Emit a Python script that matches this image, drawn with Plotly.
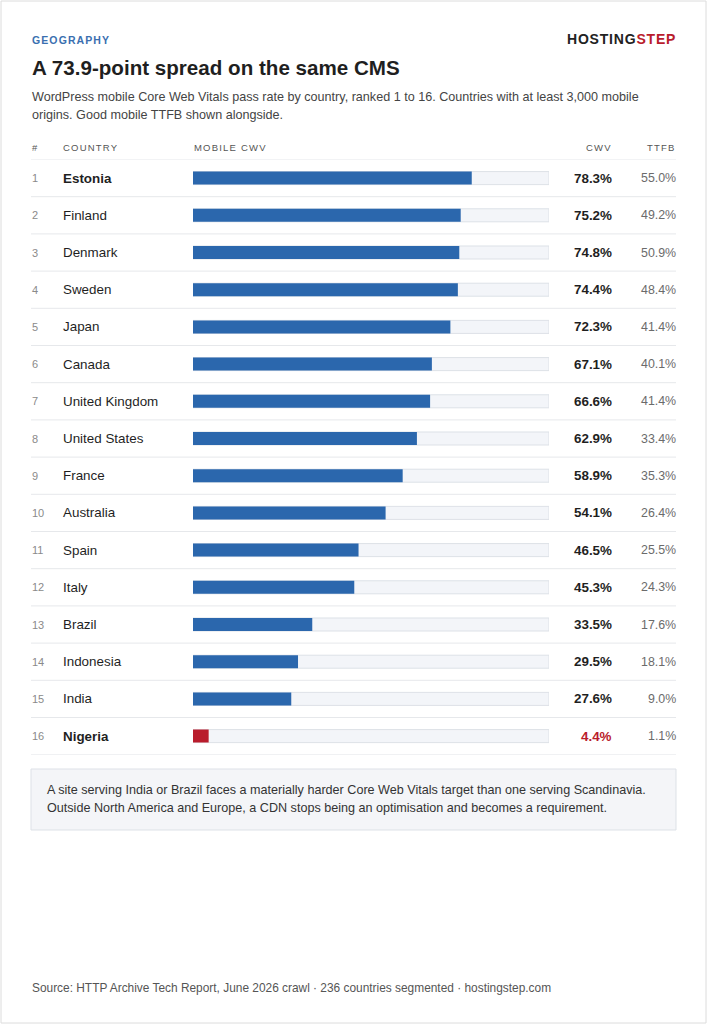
import plotly.graph_objects as go

W, H = 707, 1024

ranks = list(range(1, 17))
countries = [
    "Estonia", "Finland", "Denmark", "Sweden", "Japan", "Canada",
    "United Kingdom", "United States", "France", "Australia", "Spain",
    "Italy", "Brazil", "Indonesia", "India", "Nigeria",
]
cwv = [78.3, 75.2, 74.8, 74.4, 72.3, 67.1, 66.6, 62.9, 58.9, 54.1, 46.5, 45.3, 33.5, 29.5, 27.6, 4.4]
ttfb = [55.0, 49.2, 50.9, 48.4, 41.4, 40.1, 41.4, 33.4, 35.3, 26.4, 25.5, 24.3, 17.6, 18.1, 9.0, 1.1]
col_headers = ["#", "COUNTRY", "MOBILE CWV", "CWV", "TTFB"]
subtitle_lines = [
    "WordPress mobile Core Web Vitals pass rate by country, ranked 1 to 16. Countries with at least 3,000 mobile",
    "origins. Good mobile TTFB shown alongside.",
]
note_lines = [
    "A site serving India or Brazil faces a materially harder Core Web Vitals target than one serving Scandinavia.",
    "Outside North America and Europe, a CDN stops being an optimisation and becomes a requirement.",
]

FONT = "Liberation Sans"
BLUE = "#2b67ad"
RED = "#b91c2c"
DARK = "#1f1f1f"
GREY = "#6b6b6b"


def px(x, anchor="left"):
    # small shift to offset the annotation padding
    return (x - 1.5 if anchor == "left" else x + 1.5) / W


def py(y):
    return 1 - y / H


def spaced(t, s):
    return "<span style='letter-spacing:%spx'>%s</span>" % (s, t)


bar_colors = [RED if c == "Nigeria" else BLUE for c in countries]

fig = go.Figure()

# background track
fig.add_trace(go.Bar(
    y=countries, x=[100] * len(countries), orientation="h",
    marker=dict(color="#f3f5f9", line=dict(color="#dde1e7", width=1)),
    width=0.35, hoverinfo="skip", showlegend=False,
))
# value bars
fig.add_trace(go.Bar(
    y=countries, x=cwv, orientation="h",
    marker=dict(color=bar_colors, line=dict(width=0)),
    width=0.35, showlegend=False,
    hovertemplate="%{y}: %{x:.1f}%<extra></extra>",
))

ann = []
# header texts
ann.append(dict(x=px(31), y=py(40), text="<b>" + spaced("GEOGRAPHY", 1.1) + "</b>", xanchor="left",
                font=dict(size=10.5, color="#3a6fb0")))
ann.append(dict(x=px(676, "right"), y=py(39),
                text="<b>" + spaced("HOSTING<span style='color:%s'>STEP</span>" % RED, 0.8) + "</b>",
                xanchor="right", font=dict(size=14, color="#222222")))
ann.append(dict(x=px(31), y=py(67), text="<b>A 73.9-point spread on the same CMS</b>",
                xanchor="left", font=dict(size=20.6, color=DARK)))
for k, line in enumerate(subtitle_lines):
    ann.append(dict(x=px(31), y=py(97 + 18 * k), xanchor="left", text=line,
                    font=dict(size=12.6, color="#444444")))

# column headers
hx = [(31, "left"), (62, "left"), (193, "left"), (612, "right"), (676, "right")]
for (x, anc), t in zip(hx, col_headers):
    ann.append(dict(x=px(x, anc), y=py(147), text=spaced(t, 1.2), xanchor=anc,
                    font=dict(size=9.5, color="#555555")))

# rows
for i, (r, c, v, t) in enumerate(zip(ranks, countries, cwv, ttfb)):
    strong = i == 0 or i == len(countries) - 1
    ann.append(dict(x=px(31), y=c, yref="y", text=str(r), xanchor="left",
                    font=dict(size=11, color="#8a8a8a")))
    ann.append(dict(x=px(62), y=c, yref="y", text="<b>%s</b>" % c if strong else c,
                    xanchor="left", font=dict(size=13.4, color=DARK)))
    ann.append(dict(x=px(612, "right"), y=c, yref="y", text="<b>%.1f%%</b>" % v, xanchor="right",
                    font=dict(size=13.4, color=RED if c == "Nigeria" else DARK)))
    ann.append(dict(x=px(676, "right"), y=c, yref="y", text="%.1f%%" % t, xanchor="right",
                    font=dict(size=12.4, color=GREY)))

# callout + footer
for k, line in enumerate(note_lines):
    ann.append(dict(x=px(46), y=py(790 + 18 * k), xanchor="left", text=line,
                    font=dict(size=12.6, color="#333333")))
ann.append(dict(x=px(31), y=py(988), xanchor="left",
                text="Source: HTTP Archive Tech Report, June 2026 crawl · 236 countries segmented · hostingstep.com",
                font=dict(size=11.9, color="#555555")))

for a in ann:
    a.setdefault("xref", "paper")
    a.setdefault("yref", "paper")
    a.setdefault("yanchor", "middle")
    a["showarrow"] = False

shapes = [
    dict(type="rect", xref="paper", yref="paper", x0=1 / W, x1=706 / W, y0=py(1), y1=py(1023),
         line=dict(color="#dcdcdc", width=1), fillcolor="rgba(0,0,0,0)"),
    dict(type="rect", xref="paper", yref="paper", x0=31 / W, x1=676 / W, y0=py(769), y1=py(830),
         line=dict(color="#dde1e7", width=1), fillcolor="#f4f5f8", layer="below"),
]
for k in range(-1, len(countries)):
    shapes.append(dict(type="line", xref="paper", yref="y", x0=31 / W, x1=676 / W,
                       y0=k + 0.5, y1=k + 0.5, line=dict(color="#e6e8eb", width=1)))

fig.update_layout(
    width=W, height=H,
    margin=dict(l=0, r=0, t=0, b=0),
    paper_bgcolor="white", plot_bgcolor="white",
    font=dict(family=FONT),
    barmode="overlay",
    xaxis=dict(domain=[193 / W, 549 / W], range=[0, 100], visible=False, fixedrange=True),
    yaxis=dict(domain=[py(754.7), py(159.5)], range=[15.5, -0.5], visible=False,
               categoryorder="array", categoryarray=countries, fixedrange=True),
    annotations=ann,
    shapes=shapes,
)

fig.write_html("out.html", config={"displayModeBar": False},
               post_script="document.body.style.margin='0';")
